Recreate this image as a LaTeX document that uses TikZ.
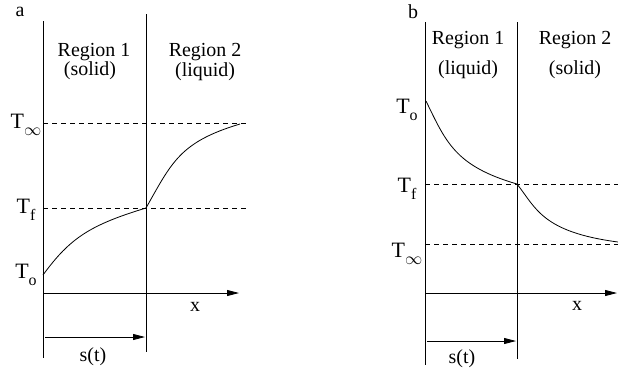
\documentclass[tikz,border=0pt]{standalone}
\usepackage{fontspec}
\setmainfont{Liberation Serif}
\usetikzlibrary{arrows.meta}
\tikzset{
  ln/.style={line width=0.8bp},
  dsh/.style={line width=0.8bp, dash pattern=on 5bp off 4bp},
  arr/.style={line width=0.8bp, -{Triangle[length=12bp,width=6bp]}},
  lbl/.style={inner sep=0pt, font=\fontsize{20}{22}\selectfont},
  tl/.style={inner sep=0pt, anchor=base, font=\fontsize{22}{22}\selectfont},
}
\newcommand{\Tsub}[1]{T\raisebox{-0.33em}{\fontsize{16}{16}\selectfont #1}}
\begin{document}
\begin{tikzpicture}[x=1bp,y=-1bp]
\useasboundingbox (0,0) rectangle (618,374);
% ---------- panel a ----------
\node[lbl] (la) at (20,12) {a};
\coordinate (aLt) at (43,21);
\coordinate (aLb) at (43,358);
\coordinate (aMt) at (146,14);
\coordinate (aMb) at (146,352);
\draw[ln] (aLt) -- (aLb);
\draw[ln] (aMt) -- (aMb);
\coordinate (aX0) at (43,293);
\coordinate (aX1) at (239,293);
\draw[arr] (aX0) -- (aX1);
\coordinate (aS0) at (45,337);
\coordinate (aS1) at (145,337);
\draw[arr] (aS0) -- (aS1);
\coordinate (aI0) at (43,123);
\coordinate (aI1) at (250,123);
\coordinate (aF0) at (43,208);
\coordinate (aF1) at (250,208);
\draw[dsh] (aI0) -- (aI1);
\draw[dsh] (aF0) -- (aF1);
\coordinate (aC0) at (43,275);
\coordinate (aC1) at (146,208);
\coordinate (aC2) at (240,124);
\draw[ln] (aC0) .. controls (70,238) and (90,225) .. (aC1)
          .. controls (172,162) and (180,142) .. (aC2);
\node[lbl] (ar1) at (94,52) {Region 1};
\node[lbl] (as1) at (90,71) {(solid)};
\node[lbl] (ar2) at (205,52) {Region 2};
\node[lbl] (aq2) at (205,72) {(liquid)};
\node[tl] (aTi) at (26,128) {\Tsub{$\infty$}};
\node[tl] (aTf) at (26,213) {\Tsub{f}};
\node[tl] (aTo) at (26,278) {\Tsub{o}};
\node[lbl] (ax) at (195,307) {x};
\node[lbl] (ast) at (93,357) {s(t)};
% ---------- panel b ----------
\node[lbl] (lb) at (413,12) {b};
\coordinate (bLt) at (425,22);
\coordinate (bLb) at (425,365);
\coordinate (bMt) at (517,22);
\coordinate (bMb) at (517,359);
\draw[ln] (bLt) -- (bLb);
\draw[ln] (bMt) -- (bMb);
\coordinate (bX0) at (425,293);
\coordinate (bX1) at (617,293);
\draw[arr] (bX0) -- (bX1);
\coordinate (bS0) at (427,341);
\coordinate (bS1) at (516,341);
\draw[arr] (bS0) -- (bS1);
\coordinate (bF0) at (425,184);
\coordinate (bF1) at (618,184);
\coordinate (bI0) at (425,244);
\coordinate (bI1) at (618,244);
\draw[dsh] (bF0) -- (bF1);
\draw[dsh] (bI0) -- (bI1);
\coordinate (bC0) at (426,101);
\coordinate (bC1) at (517,184);
\coordinate (bC2) at (618,242);
\draw[ln] (bC0) .. controls (446,142) and (455,166) .. (bC1)
          .. controls (536,208) and (542,232) .. (bC2);
\node[lbl] (br1) at (468,40) {Region 1};
\node[lbl] (bq1) at (468,70) {(liquid)};
\node[lbl] (br2) at (575,40) {Region 2};
\node[lbl] (bs2) at (575,70) {(solid)};
\node[tl] (bTo) at (407,113) {\Tsub{o}};
\node[tl] (bTf) at (407,192) {\Tsub{f}};
\node[tl] (bTi) at (407,257) {\Tsub{$\infty$}};
\node[lbl] (bx) at (577,306) {x};
\node[lbl] (bst) at (462,359) {s(t)};
\end{tikzpicture}
\end{document}
